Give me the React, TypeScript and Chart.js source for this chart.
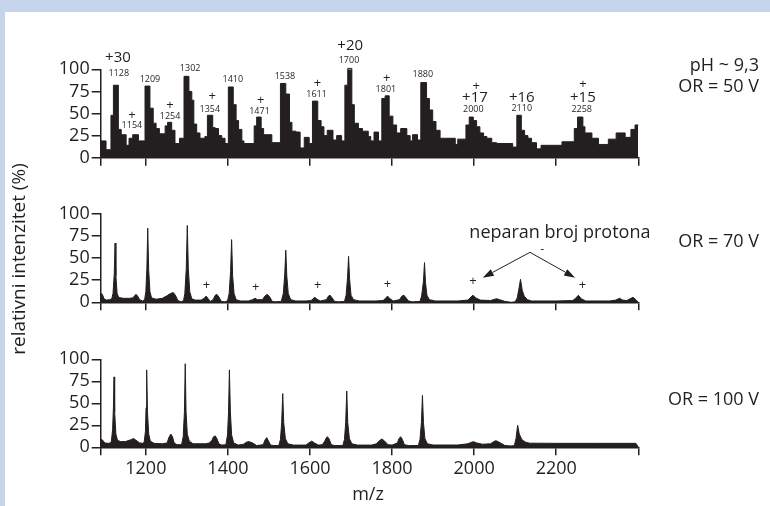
import React, { useEffect, useRef } from 'react';
import { Chart, registerables } from 'chart.js';

Chart.register(...registerables);

const FONT = "'Open Sans', 'Noto Sans', 'DejaVu Sans', sans-serif";
const INK = '#231f20';
const FRAME = '#c6d5eb';

// ---------- axes ----------
const X_MIN = 1090;
const X_MAX = 2400;
const xTickValues = [1090, 1200, 1400, 1600, 1800, 2000, 2200, 2400];
const xTickLabels = ['', '1200', '1400', '1600', '1800', '2000', '2200', ''];
const yTickValues = [0, 25, 50, 75, 100];

// ---------- data: [m/z, relative intensity %] ----------
// OR = 50 V (binned, stepped spectrum; each point = start of a bin)
const spectrum50: [number, number][] = [
  [1090, 19], [1103, 9], [1115, 48], [1121, 82], [1133, 32], [1140, 26], [1152, 14], [1159, 22],
  [1168, 26], [1182, 19], [1198, 81], [1210, 56], [1218, 39], [1225, 33], [1233, 27], [1247, 36],
  [1253, 40], [1263, 31], [1271, 16], [1282, 22], [1293, 92], [1305, 75], [1312, 65], [1317, 38],
  [1324, 28], [1332, 22], [1344, 24], [1350, 48], [1363, 34], [1369, 33], [1377, 25], [1385, 22],
  [1393, 16], [1401, 80], [1413, 60], [1420, 42], [1426, 32], [1434, 19], [1439, 16], [1464, 36],
  [1470, 46], [1481, 33], [1487, 26], [1507, 17], [1528, 84], [1541, 72], [1550, 40], [1556, 30],
  [1566, 29], [1576, 11], [1586, 23], [1598, 16], [1606, 64], [1619, 42], [1627, 35], [1634, 25],
  [1642, 31], [1656, 20], [1665, 25], [1677, 19], [1685, 82], [1692, 101], [1702, 60], [1708, 39],
  [1718, 33], [1728, 30], [1742, 24], [1748, 19], [1756, 29], [1767, 19], [1775, 67], [1783, 70],
  [1793, 47], [1802, 37], [1811, 28], [1821, 33], [1836, 25], [1844, 19], [1850, 26], [1862, 20],
  [1870, 85], [1884, 67], [1891, 54], [1899, 41], [1907, 31], [1917, 22], [1954, 15], [1960, 21],
  [1980, 37], [1988, 46], [1998, 42], [2006, 35], [2014, 28], [2023, 24], [2031, 22], [2043, 17],
  [2055, 16], [2094, 12], [2104, 48], [2115, 31], [2123, 25], [2131, 22], [2140, 17], [2152, 10],
  [2163, 14], [2214, 18], [2244, 33], [2252, 46], [2265, 35], [2270, 28], [2287, 22], [2303, 15],
  [2327, 21], [2346, 28], [2368, 23], [2382, 32], [2392, 37], [2400, 37],
];

// OR = 70 V (profile spectrum)
const spectrum70: [number, number][] = [
  [1090, 10], [1094, 9], [1098, 4], [1104, 2.5], [1112, 3],
  [1117, 4], [1120, 10], [1123, 32], [1125, 67], [1127, 30], [1130, 10], [1134, 5.5],
  [1145, 4.5], [1160, 4.5], [1168, 5], [1172, 7], [1176, 9], [1180, 7], [1185, 3], [1192, 1.5],
  [1197, 3], [1200, 12], [1202.5, 38], [1204.6, 84], [1207, 36], [1210, 12], [1214, 5],
  [1225, 3.5], [1240, 4.5], [1250, 7], [1260, 10], [1267, 11], [1272, 8], [1278, 2], [1286, 0.5],
  [1292, 2], [1295, 10], [1298.5, 38], [1301, 87], [1303.5, 38], [1307, 12], [1312, 4], [1320, 2.5],
  [1335, 2.5], [1342, 4.5], [1347, 7], [1352, 4], [1357, 1],
  [1364, 3], [1369, 8], [1373, 9], [1378, 6], [1384, 1], [1392, 0.5],
  [1399, 1.5], [1403, 10], [1406.5, 35], [1409, 71], [1411.5, 30], [1415, 10], [1420, 3], [1430, 1.5],
  [1450, 1.5], [1460, 3], [1466, 4.5], [1472, 3],
  [1484, 3], [1490, 7], [1496, 9], [1502, 6], [1508, 1], [1515, 0.5],
  [1530, 1], [1535, 10], [1538.5, 32], [1541, 59], [1543.5, 30], [1547, 10], [1553, 3], [1565, 1.5],
  [1590, 1.5], [1603, 2], [1607, 4], [1612, 5.6], [1617, 3.5], [1625, 1.5],
  [1640, 3], [1645, 7], [1649, 8], [1654, 5], [1660, 1], [1670, 0.5],
  [1684, 1], [1688, 8], [1691.5, 28], [1694, 52], [1696.5, 26], [1700, 8], [1706, 3], [1720, 1.5],
  [1760, 1.5], [1778, 2], [1783, 4], [1789, 7], [1795, 4], [1803, 1.5],
  [1818, 3], [1824, 7], [1829, 8], [1834, 5], [1840, 1.5], [1850, 0.5],
  [1868, 1], [1872, 7], [1876.5, 24], [1879, 45], [1881.5, 22], [1885, 8], [1891, 3], [1905, 1.5],
  [1960, 1.5], [1985, 2.5], [1990, 5], [1997, 8], [2004, 5], [2015, 2.5],
  [2040, 2], [2050, 3.5], [2055, 4], [2062, 3], [2075, 1], [2090, 0],
  [2100, 0.5], [2105, 5], [2109, 15], [2113, 26], [2117, 14], [2122, 7], [2130, 3], [2140, 1.5],
  [2200, 1.5], [2240, 2], [2246, 4], [2254, 8], [2261, 4], [2272, 1.5],
  [2330, 1.5], [2345, 2.5], [2354, 4.5], [2362, 2.5], [2372, 2], [2380, 4], [2387, 5.6], [2394, 3], [2400, 0],
];

// OR = 100 V (profile spectrum)
const spectrum100: [number, number][] = [
  [1090, 9.5], [1095, 8], [1100, 5], [1108, 4.5], [1114, 5],
  [1116, 7], [1119, 20], [1121, 45], [1122.5, 80], [1124, 40], [1127, 15], [1131, 8], [1138, 6.5],
  [1150, 6.5], [1160, 8], [1165, 9], [1170, 10], [1176, 8], [1185, 5], [1193, 4.5],
  [1196, 6], [1199, 18], [1200.5, 45], [1202, 88], [1204, 40], [1207, 15], [1211, 7], [1220, 4.5],
  [1240, 4], [1252, 5], [1256, 11], [1261, 15], [1265, 12], [1269, 5], [1276, 3],
  [1287, 3], [1291, 12], [1294, 40], [1296, 95], [1298, 40], [1301, 15], [1306, 7], [1315, 4],
  [1345, 4], [1355, 5], [1361, 8], [1365, 12], [1369, 13], [1373, 10], [1378, 4], [1385, 2.5],
  [1395, 3], [1399, 14], [1401.5, 40], [1403.6, 88], [1406, 40], [1409, 14], [1414, 5], [1425, 2.5],
  [1438, 3.5], [1446, 6], [1452, 6.4], [1460, 5], [1470, 2],
  [1486, 3], [1490, 8], [1494.6, 11], [1499, 7], [1504, 2.5], [1512, 2],
  [1524, 2], [1528, 9], [1531, 28], [1533.6, 61], [1536, 28], [1540, 10], [1546, 4], [1560, 2.5],
  [1590, 2.5], [1597, 5], [1604, 7], [1611, 5], [1620, 2.5], [1630, 3],
  [1636, 7], [1640, 11], [1642.5, 12], [1646, 10], [1652, 3], [1660, 2],
  [1680, 2], [1684, 9], [1687, 28], [1689.6, 64], [1692, 28], [1696, 10], [1702, 4], [1716, 2.5],
  [1750, 2.5], [1762, 4], [1768, 7], [1775, 9.5], [1782, 7], [1790, 3], [1800, 2.5],
  [1813, 5], [1817, 10], [1821, 12], [1825, 9], [1830, 3], [1840, 2],
  [1864, 2], [1868, 9], [1871.5, 28], [1874, 59], [1876.5, 28], [1880, 10], [1886, 4], [1900, 2.6],
  [1960, 2.6], [1985, 4], [1992, 5.5], [1998, 6.4], [2006, 5], [2020, 3.5],
  [2040, 4], [2048, 6.5], [2053, 7.5], [2060, 6], [2075, 2], [2090, 1.5],
  [2098, 2], [2102, 10], [2106, 25], [2110, 15], [2116, 9], [2124, 6], [2135, 4.7],
  [2200, 4.5], [2300, 4.5], [2394, 4.5], [2398, 2], [2400, 0],
];

// ---------- annotation texts (anchored in data coordinates) ----------
type Note = { text: string; mz: number; v: number; kind: 'charge' | 'mass' | 'plus' };
const notes50: Note[] = [
  { text: '+30', mz: 1132, v: 113, kind: 'charge' },
  { text: '1128', mz: 1134, v: 95, kind: 'mass' },
  { text: '+', mz: 1166, v: 48.5, kind: 'plus' },
  { text: '1154', mz: 1166, v: 36.4, kind: 'mass' },
  { text: '1209', mz: 1210, v: 89, kind: 'mass' },
  { text: '+', mz: 1259, v: 58.8, kind: 'plus' },
  { text: '1254', mz: 1259, v: 46.6, kind: 'mass' },
  { text: '1302', mz: 1308, v: 100.5, kind: 'mass' },
  { text: '+', mz: 1362, v: 69.3, kind: 'plus' },
  { text: '1354', mz: 1356, v: 55, kind: 'mass' },
  { text: '1410', mz: 1412, v: 89, kind: 'mass' },
  { text: '+', mz: 1480, v: 64.8, kind: 'plus' },
  { text: '1471', mz: 1477, v: 52.3, kind: 'mass' },
  { text: '1538', mz: 1539, v: 92, kind: 'mass' },
  { text: '+', mz: 1618, v: 83.8, kind: 'plus' },
  { text: '1611', mz: 1616, v: 72, kind: 'mass' },
  { text: '+20', mz: 1698, v: 127, kind: 'charge' },
  { text: '1700', mz: 1695, v: 110, kind: 'mass' },
  { text: '+', mz: 1787, v: 90.2, kind: 'plus' },
  { text: '1801', mz: 1785, v: 76.9, kind: 'mass' },
  { text: '1880', mz: 1875, v: 94, kind: 'mass' },
  { text: '+', mz: 2005, v: 80.7, kind: 'plus' },
  { text: '+17', mz: 2002, v: 67.5, kind: 'charge' },
  { text: '2000', mz: 1998, v: 54.2, kind: 'mass' },
  { text: '+16', mz: 2116, v: 67.5, kind: 'charge' },
  { text: '2110', mz: 2116, v: 56.1, kind: 'mass' },
  { text: '+', mz: 2265, v: 82.6, kind: 'plus' },
  { text: '+15', mz: 2265, v: 67.5, kind: 'charge' },
  { text: '2258', mz: 2262, v: 54.2, kind: 'mass' },
];
const notes70: Note[] = [
  { text: '+', mz: 1348, v: 19.6, kind: 'plus' },
  { text: '+', mz: 1468, v: 16.5, kind: 'plus' },
  { text: '+', mz: 1619, v: 18.8, kind: 'plus' },
  { text: '+', mz: 1789, v: 20.4, kind: 'plus' },
  { text: '+', mz: 1997, v: 23.3, kind: 'plus' },
  { text: '+', mz: 2264, v: 19.6, kind: 'plus' },
];
const oddProtonText = 'neparan broj protona';
const conditionLabels = ['pH ~ 9,3', 'OR = 50 V', 'OR = 70 V', 'OR = 100 V'];
const yTitle = 'relativni intenzitet (%)';
const xTitle = 'm/z';

// ---------- layout ----------
const W = 770;
const H = 506;
const PLOT_LEFT = 100.7;
const PLOT_RIGHT = 638.3;
const X_AXIS_H = 40;
const PANELS = [
  { top: 69.3, bottom: 157.7 },
  { top: 214, bottom: 302.3 },
  { top: 359.3, bottom: 447.3 },
];
const SIZES = { charge: 15, mass: 9, plus: 13 };

function drawArrow(ctx: CanvasRenderingContext2D, x0: number, y0: number, x1: number, y1: number) {
  const ang = Math.atan2(y1 - y0, x1 - x0);
  const len = 11;
  const hw = 3.6;
  const bx = x1 - len * Math.cos(ang);
  const by = y1 - len * Math.sin(ang);
  ctx.beginPath();
  ctx.moveTo(x0, y0);
  ctx.lineTo(bx, by);
  ctx.stroke();
  ctx.beginPath();
  ctx.moveTo(x1, y1);
  ctx.lineTo(bx + hw * Math.sin(ang), by - hw * Math.cos(ang));
  ctx.lineTo(bx - hw * Math.sin(ang), by + hw * Math.cos(ang));
  ctx.closePath();
  ctx.fill();
}

function annotationPlugin(i: number) {
  return {
    id: 'annot' + i,
    afterDraw(chart: any) {
      const ctx: CanvasRenderingContext2D = chart.ctx;
      const xs = chart.scales.x;
      const ys = chart.scales.y;
      const px = (m: number) => xs.getPixelForValue(m);
      const py = (v: number) => ys.getPixelForValue(v);
      ctx.save();
      ctx.fillStyle = INK;
      ctx.strokeStyle = INK;
      ctx.textAlign = 'center';
      ctx.textBaseline = 'middle';
      const list = i === 0 ? notes50 : i === 1 ? notes70 : [];
      for (const n of list) {
        ctx.font = `${SIZES[n.kind]}px ${FONT}`;
        ctx.fillText(n.text, px(n.mz), py(n.v));
      }
      if (i === 1) {
        ctx.font = `18px ${FONT}`;
        ctx.fillText(oddProtonText, px(2209), py(78.5));
        ctx.font = `12px ${FONT}`;
        ctx.fillText('-', px(2166), py(60));
        ctx.lineWidth = 1;
        const ax = px(2136);
        const ay = py(56.6);
        drawArrow(ctx, ax, ay, px(2021), py(27.9));
        drawArrow(ctx, ax, ay, px(2246), py(27.9));
      }
      if (i === 2) {
        ctx.font = `18px ${FONT}`;
        ctx.textAlign = 'right';
        ctx.fillText(conditionLabels[0], 759, 66);
        ctx.fillText(conditionLabels[1], 759, 87);
        ctx.fillText(conditionLabels[2], 759, 242);
        ctx.fillText(conditionLabels[3], 759, 400);
        ctx.textAlign = 'center';
        ctx.fillText(xTitle, 368, 495);
        ctx.font = `19px ${FONT}`;
        ctx.translate(20, 259);
        ctx.rotate(-Math.PI / 2);
        ctx.fillText(yTitle, 0, 0);
      }
      ctx.restore();
    },
  };
}

function makeConfig(i: number, series: [number, number][]): any {
  const p = PANELS[i];
  const axisGrid = {
    display: true,
    drawOnChartArea: false,
    drawTicks: true,
    color: INK,
    lineWidth: 1.5,
  };
  return {
    type: 'line',
    data: {
      datasets: [
        {
          data: series.map(([x, y]) => ({ x, y })),
          stepped: i === 0 ? true : false,
          tension: 0,
          fill: 'origin',
          backgroundColor: INK,
          borderColor: INK,
          borderWidth: 1,
          pointRadius: 0,
          clip: false,
        },
      ],
    },
    options: {
      responsive: false,
      animation: false,
      devicePixelRatio: 1,
      events: [],
      layout: {
        padding: { left: 0, right: W - PLOT_RIGHT, top: p.top, bottom: H - p.bottom - X_AXIS_H },
      },
      plugins: { legend: { display: false }, tooltip: { enabled: false } },
      scales: {
        x: {
          type: 'linear',
          min: X_MIN,
          max: X_MAX,
          afterBuildTicks: (s: any) => {
            s.ticks = xTickValues.map((v) => ({ value: v }));
          },
          afterFit: (s: any) => {
            s.height = X_AXIS_H;
          },
          ticks: {
            autoSkip: false,
            maxRotation: 0,
            padding: 3,
            color: INK,
            font: { family: FONT, size: 18 },
            callback: (v: number) => (i === 2 ? xTickLabels[xTickValues.indexOf(v)] ?? '' : ''),
          },
          grid: { ...axisGrid, tickLength: 8 },
          border: { display: true, color: INK, width: 1.5 },
        },
        y: {
          min: 0,
          max: 100,
          afterBuildTicks: (s: any) => {
            s.ticks = yTickValues.map((v) => ({ value: v }));
          },
          afterFit: (s: any) => {
            s.width = PLOT_LEFT;
          },
          ticks: {
            autoSkip: false,
            padding: 2,
            color: INK,
            font: { family: FONT, size: 18 },
            callback: (v: number) => String(v),
          },
          grid: { ...axisGrid, tickLength: 9 },
          border: { display: true, color: INK, width: 1.5 },
        },
      },
    },
    plugins: [annotationPlugin(i)],
  };
}

export default function App() {
  const r0 = useRef<HTMLCanvasElement>(null);
  const r1 = useRef<HTMLCanvasElement>(null);
  const r2 = useRef<HTMLCanvasElement>(null);

  useEffect(() => {
    const refs = [r0, r1, r2];
    const series = [spectrum50, spectrum70, spectrum100];
    const charts = series.map((s, i) => new Chart(refs[i].current as HTMLCanvasElement, makeConfig(i, s)));
    return () => charts.forEach((c) => c.destroy());
  }, []);

  const canvasStyle: React.CSSProperties = { position: 'absolute', left: 0, top: 0, width: W, height: H };
  return (
    <div style={{ position: 'fixed', left: 0, top: 0, width: W, height: H, background: FRAME, overflow: 'hidden' }}>
      <div style={{ position: 'absolute', left: 5, top: 12, right: 0, bottom: 0, background: '#ffffff' }} />
      <canvas ref={r0} width={W} height={H} style={canvasStyle} />
      <canvas ref={r1} width={W} height={H} style={canvasStyle} />
      <canvas ref={r2} width={W} height={H} style={canvasStyle} />
    </div>
  );
}
